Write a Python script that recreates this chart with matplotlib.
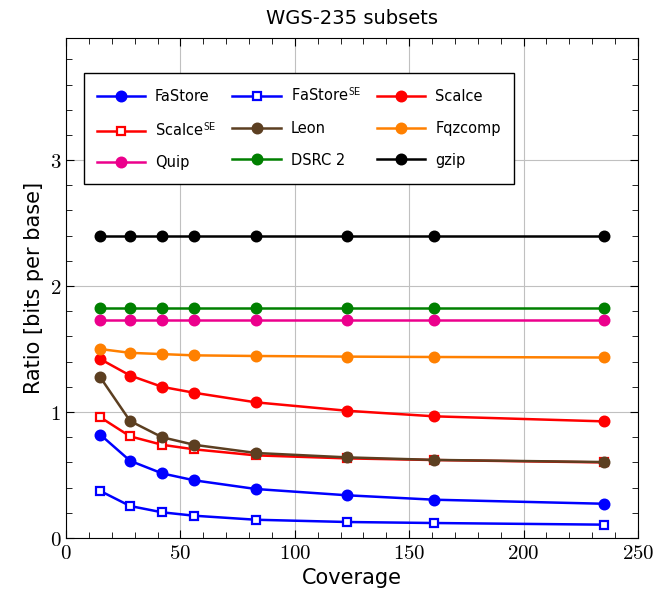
import matplotlib
matplotlib.use('Agg')
import matplotlib.pyplot as plt
from matplotlib.ticker import MultipleLocator

plt.rcParams['font.family'] = ['DejaVu Sans']
plt.rcParams['mathtext.fontset'] = 'cm'

# coverage of each subset
coverage = [15, 28, 42, 56, 83, 123, 161, 235]

fastore = [0.82, 0.613, 0.513, 0.458, 0.389, 0.339, 0.304, 0.272]
fastore_se = [0.373, 0.254, 0.204, 0.177, 0.145, 0.127, 0.119, 0.106]
scalce = [1.42, 1.29, 1.20, 1.153, 1.077, 1.01, 0.966, 0.926]
scalce_se = [0.958, 0.807, 0.74, 0.704, 0.656, 0.632, 0.619, 0.60]
leon = [1.275, 0.929, 0.80, 0.74, 0.675, 0.64, 0.62, 0.603]
fqzcomp = [1.50, 1.47, 1.46, 1.45, 1.445, 1.44, 1.437, 1.433]
quip = [1.73] * 8
dsrc2 = [1.825] * 8
gzip = [2.397] * 8

series = [
    ('FaStore', fastore, 'blue', 'o', True),
    ('FaStore$^{\\mathsf{SE}}$', fastore_se, 'blue', 's', False),
    ('Scalce', scalce, 'red', 'o', True),
    ('Scalce$^{\\mathsf{SE}}$', scalce_se, 'red', 's', False),
    ('Leon', leon, '#5c3f21', 'o', True),
    ('Fqzcomp', fqzcomp, '#ff8000', 'o', True),
    ('Quip', quip, '#ec008c', 'o', True),
    ('DSRC 2', dsrc2, 'green', 'o', True),
    ('gzip', gzip, 'black', 'o', True),
]

fig = plt.figure(figsize=(6.57, 6.06), dpi=100)
ax = fig.add_axes([0.1005, 0.1122, 0.8705, 0.8248])

for name, vals, col, mk, filled in series:
    ax.plot(coverage, vals, color=col, marker=mk, lw=1.8,
            markersize=7 if mk == 'o' else 6,
            markerfacecolor=col if filled else 'white',
            markeredgecolor=col, markeredgewidth=1.6, label=name)

ax.set_xlim(0, 250)
ax.set_ylim(0, 3.968)
ax.xaxis.set_major_locator(MultipleLocator(50))
ax.xaxis.set_minor_locator(MultipleLocator(10))
ax.yaxis.set_major_locator(MultipleLocator(1))
ax.yaxis.set_minor_locator(MultipleLocator(0.2))
ax.set_xticks([0, 50, 100, 150, 200, 250])
ax.set_xticklabels(['$%d$' % v for v in [0, 50, 100, 150, 200, 250]])
ax.set_yticks([0, 1, 2, 3])
ax.set_yticklabels(['$%d$' % v for v in [0, 1, 2, 3]])
ax.tick_params(which='both', direction='in', top=True, right=True, labelsize=15)
ax.tick_params(which='major', length=6)
ax.tick_params(which='minor', length=4)
ax.grid(True, which='major', color='#c0c0c0', lw=0.8)
ax.set_axisbelow(True)

ax.set_xlabel('Coverage', fontsize=15)
ax.set_ylabel('Ratio [bits per base]', fontsize=15)
ax.set_title('WGS-235 subsets', fontsize=14, pad=10)

# legend filled row by row, like the original
handles, labels = ax.get_legend_handles_labels()
order = [0, 3, 6, 1, 4, 7, 2, 5, 8]
leg = ax.legend([handles[i] for i in order], [labels[i] for i in order],
                ncol=3, loc='upper left', bbox_to_anchor=(0.018, 0.945),
                fontsize=10.5, fancybox=False, framealpha=1, edgecolor='black',
                handlelength=3.3, handletextpad=0.7, columnspacing=1.1,
                labelspacing=1.15, borderpad=0.9)
leg.get_frame().set_linewidth(1.0)

fig.savefig('out.png', dpi=100)
